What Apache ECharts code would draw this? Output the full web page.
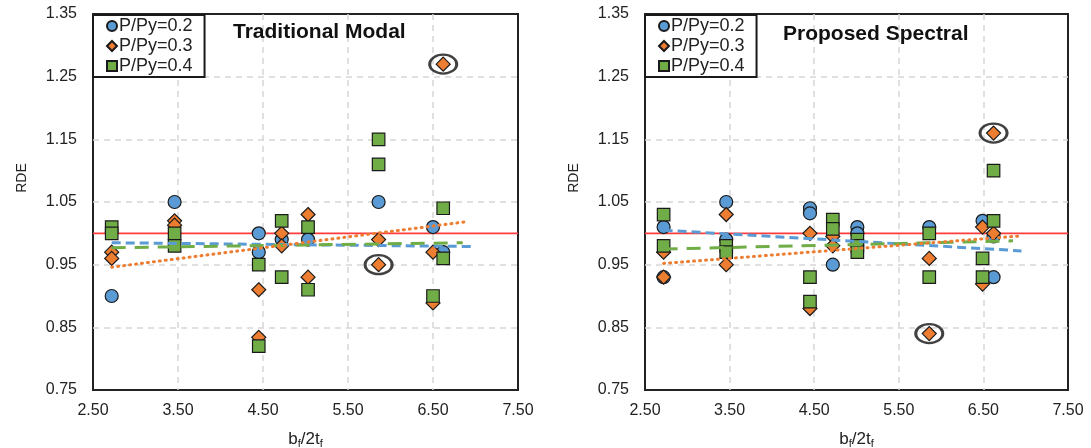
<!DOCTYPE html>
<html>
<head>
<meta charset="utf-8">
<script src="https://cdn.jsdelivr.net/npm/echarts@6/dist/echarts.min.js"></script>
<style>
  html, body { margin: 0; padding: 0; background: #fff; }
  #chart { width: 1091px; height: 448px; }
</style>
</head>
<body>
<div id="chart"></div>
<script>
// Series names
const seriesNames = ['P/Py=0.2', 'P/Py=0.3', 'P/Py=0.4'];
const panelTitles = ['Traditional Modal', 'Proposed Spectral'];

// Traditional Modal: [bf/2tf, RDE]
const modalP02 = [[2.72,0.90],[3.46,1.05],[4.45,1.00],[4.45,0.97],[4.72,0.99],[5.03,0.99],[5.86,1.05],[6.50,1.01],[6.62,0.97]];
const modalP03 = [[2.72,0.97],[2.72,0.96],[3.46,1.02],[3.46,1.013],[4.45,0.91],[4.45,0.834],[4.72,1.00],[4.72,0.98],[5.03,1.03],[5.03,0.93],[5.86,0.99],[5.86,0.95],[6.50,0.97],[6.50,0.889],[6.62,1.27]];
const modalP04 = [[2.72,1.01],[2.72,1.00],[3.46,1.00],[3.46,0.98],[4.45,0.95],[4.45,0.82],[4.72,1.02],[4.72,0.93],[5.03,1.01],[5.03,0.91],[5.86,1.15],[5.86,1.11],[6.50,0.90],[6.62,1.04],[6.62,0.96]];
const modalTrend02 = [[2.72,0.985],[6.95,0.979]];
const modalTrend03 = [[2.72,0.946],[6.92,1.019]];
const modalTrend04 = [[2.72,0.977],[6.85,0.985]];
const modalCircled = [[6.62,1.27],[5.86,0.95]];

// Proposed Spectral: [bf/2tf, RDE]
const spectralP02 = [[2.72,1.01],[2.72,0.93],[3.46,1.05],[3.46,0.99],[4.45,1.04],[4.45,1.032],[4.72,0.95],[5.01,1.01],[5.01,1.00],[5.86,1.01],[6.49,1.02],[6.62,0.995],[6.62,0.93]];
const spectralP03 = [[2.72,0.97],[2.72,0.93],[3.46,1.03],[3.46,0.95],[4.45,1.00],[4.45,0.88],[4.72,0.995],[4.72,0.98],[5.86,0.96],[5.86,0.84],[6.49,1.01],[6.49,0.919],[6.62,1.00],[6.62,1.16]];
const spectralP04 = [[2.72,1.03],[2.72,0.98],[3.46,0.98],[3.46,0.97],[4.45,0.93],[4.45,0.891],[4.72,1.022],[4.72,1.007],[5.01,0.99],[5.01,0.98],[5.01,0.97],[5.86,1.00],[5.86,0.93],[6.49,0.96],[6.49,0.93],[6.62,1.02],[6.62,1.10]];
const spectralTrend02 = [[2.72,1.005],[6.95,0.972]];
const spectralTrend03 = [[2.72,0.952],[6.95,0.996]];
const spectralTrend04 = [[2.72,0.975],[6.85,0.988]];
const spectralCircled = [[6.62,1.16],[5.86,0.84]];

// Unity reference line
const unityLine = [[2.5,1.0],[7.5,1.0]];

// Axis ranges
const xRange = { min: 2.5, max: 7.5, interval: 1 };
const yRange = { min: 0.75, max: 1.35, interval: 0.1 };

const FONT = 'Liberation Sans, Arial, sans-serif';
const BLUE = '#5B9BD5', ORANGE = '#ED7D31', GREEN = '#70AD47';

const panels = [
  { p02: modalP02, p03: modalP03, p04: modalP04, t02: modalTrend02, t03: modalTrend03, t04: modalTrend04, circled: modalCircled },
  { p02: spectralP02, p03: spectralP03, p04: spectralP04, t02: spectralTrend02, t03: spectralTrend03, t04: spectralTrend04, circled: spectralCircled }
];

const grids = [
  { left: 93, top: 14, width: 425, height: 376 },
  { left: 645, top: 14, width: 423, height: 376 }
];

const gridLine = { show: true, showMinLine: false, showMaxLine: false, lineStyle: { color: '#d6d6d6', width: 1.5, type: [6, 5] } };

function xAxisFor(i) {
  return {
    type: 'value', gridIndex: i, min: xRange.min, max: xRange.max, interval: xRange.interval,
    axisLine: { show: false }, axisTick: { show: false },
    splitLine: gridLine,
    axisLabel: { color: '#222', fontSize: 16, fontFamily: FONT, margin: 13, formatter: v => v.toFixed(2) },
    name: 'b{s|f}/2t{s|f}', nameLocation: 'middle', nameGap: 40,
    nameTextStyle: {
      color: '#222', fontSize: 17, fontFamily: FONT,
      rich: { s: { fontSize: 11, fontFamily: FONT, color: '#222', padding: [8, 0, 0, 0] } }
    }
  };
}
function yAxisFor(i) {
  return {
    type: 'value', gridIndex: i, min: yRange.min, max: yRange.max, interval: yRange.interval,
    axisLine: { show: false }, axisTick: { show: false },
    splitLine: gridLine,
    axisLabel: { color: '#222', fontSize: 16, fontFamily: FONT, margin: 16, formatter: v => v.toFixed(2) },
    name: 'RDE', nameLocation: 'middle', nameGap: 64,
    nameTextStyle: { color: '#222', fontSize: 14, fontFamily: FONT, padding: [0, 0, 0, 48] }
  };
}

function markers(i, name, data, symbol, size, color, z) {
  return {
    type: 'scatter', name, xAxisIndex: i, yAxisIndex: i, data, symbol, symbolSize: size, z,
    itemStyle: { color, borderColor: '#1a1a1a', borderWidth: 1.2, opacity: 1 },
    emphasis: { disabled: true }
  };
}
function trend(i, data, color, type, width, cap) {
  return {
    type: 'line', xAxisIndex: i, yAxisIndex: i, data, showSymbol: false, symbol: 'none', z: 6,
    lineStyle: { color, width, type, cap },
    silent: true, animation: false
  };
}

const series = [];
panels.forEach((p, i) => {
  series.push({
    type: 'line', xAxisIndex: i, yAxisIndex: i, data: unityLine, symbol: 'none', z: 1,
    lineStyle: { color: '#FF3B3B', width: 1.8 }, silent: true
  });
  series.push(markers(i, seriesNames[0], p.p02, 'circle', 13, BLUE, 3));
  series.push(markers(i, seriesNames[1], p.p03, 'diamond', 14, ORANGE, 4));
  series.push(markers(i, seriesNames[2], p.p04, 'rect', 12.5, GREEN, 5));
  series.push(trend(i, p.t02, BLUE, [9, 5], 3, 'butt'));
  series.push(trend(i, p.t04, GREEN, [14, 9], 3, 'butt'));
  series.push(trend(i, p.t03, ORANGE, [1, 5], 3, 'round'));
  series.push({
    type: 'scatter', xAxisIndex: i, yAxisIndex: i, data: p.circled, symbol: 'circle', symbolSize: [27, 19], z: 7,
    itemStyle: { color: 'rgba(0,0,0,0)', borderColor: '#111', borderWidth: 2.6 }, silent: true
  });
});

const legendFor = (left) => ({
  left, top: 15, orient: 'vertical', itemGap: 2, padding: [2, 12, 2, 13],
  itemWidth: 10, itemHeight: 10,
  backgroundColor: '#fff', borderColor: '#1a1a1a', borderWidth: 2, z: 10,
  data: seriesNames.map((n, k) => ({ name: n, icon: ['circle', 'diamond', 'rect'][k] })),
  textStyle: { color: '#222', fontSize: 18, lineHeight: 17, fontFamily: FONT, padding: [0, 0, 0, -3] },
  selectedMode: false
});

const chart = echarts.init(document.getElementById('chart'), null, { renderer: 'canvas' });
chart.setOption({
  animation: false,
  backgroundColor: '#fff',
  title: [
    { text: panelTitles[0], left: 233, top: 22, padding: 0, textStyle: { fontSize: 21, fontWeight: 'bold', color: '#111', fontFamily: FONT } },
    { text: panelTitles[1], left: 783, top: 24, padding: 0, textStyle: { fontSize: 21, fontWeight: 'bold', color: '#111', fontFamily: FONT } }
  ],
  legend: [legendFor(93), legendFor(645)],
  grid: grids.map(g => Object.assign({ show: true, borderColor: '#222', borderWidth: 2, backgroundColor: 'transparent', outerBoundsMode: 'none', containLabel: false }, g)),
  xAxis: [xAxisFor(0), xAxisFor(1)],
  yAxis: [yAxisFor(0), yAxisFor(1)],
  series
});
</script>
</body>
</html>
